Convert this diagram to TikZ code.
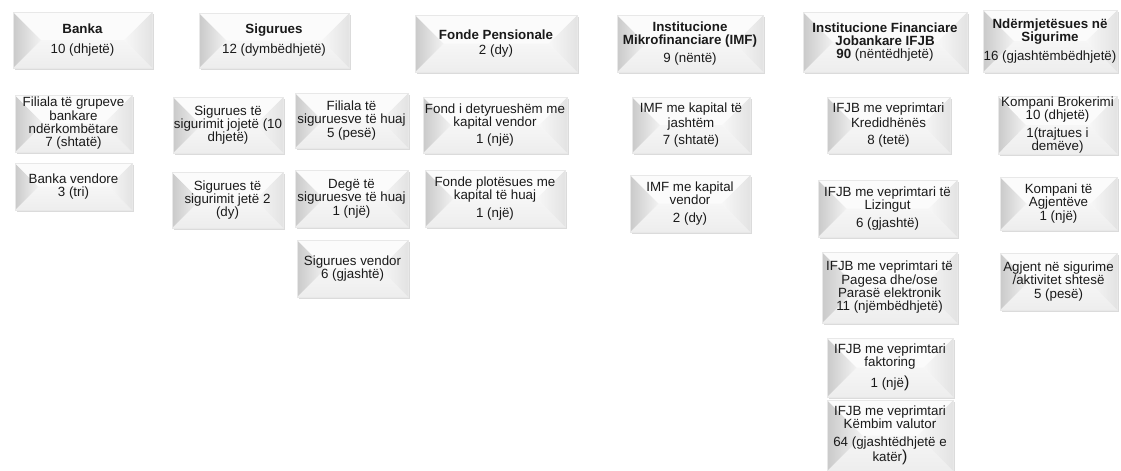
\documentclass[tikz,border=0pt]{standalone}
\usepackage{fontspec}
\setmainfont{Liberation Sans}
\usetikzlibrary{shadows,calc}
\definecolor{txt}{HTML}{1A1A1A}
\tikzset{
  bev/.style={draw=gray!18, line width=0.3pt, fill=gray!4, text=txt, align=center,
    inner sep=0.5pt, font=\fontsize{10}{10}\selectfont,
    drop shadow={shadow xshift=1.2pt, shadow yshift=-1.8pt, opacity=0.35, fill=gray!80}},
}
\newcommand\bx[6]{%
  \pgfmathsetmacro\hh{(#5-#3)/2*0.75}%
  \node[bev, minimum width={(#4-#2)*0.75pt}, minimum height={(#5-#3)*0.75pt},
    path picture={
      \fill[top color=white, bottom color=gray!14] (path picture bounding box.south west) rectangle (path picture bounding box.north east);
      \fill[left color=gray!42, right color=gray!10] (path picture bounding box.north west) -- ([xshift=\hh pt]path picture bounding box.west) -- (path picture bounding box.south west) -- cycle;
      \fill[left color=gray!6, right color=gray!22] (path picture bounding box.north east) -- ([xshift=-\hh pt]path picture bounding box.east) -- (path picture bounding box.south east) -- cycle;
      \fill[gray!3] (path picture bounding box.north west) -- ([xshift=\hh pt]path picture bounding box.west) -- ([xshift=-\hh pt]path picture bounding box.east) -- (path picture bounding box.north east) -- cycle;
    }] (#1) at ({(#2+#4)/2},{(#3+#5)/2}) {#6};}
\begin{document}
\begin{tikzpicture}[x=0.75pt,y=-0.75pt]
\useasboundingbox (0,0) rectangle (1121,471);
% top row
\bx{b0}{13}{12}{152}{68}{\textbf{Banka}\\[5pt]10 (dhjetë)}
\bx{s0}{199}{13}{349}{68}{\textbf{Sigurues}\\[5pt]12 (dymbëdhjetë)}
\bx{f0}{415}{15}{577}{72}{\textbf{Fonde Pensionale}\\[1pt]2 (dy)}
\bx{i0}{617}{15}{763}{72}{\textbf{Institucione}\\\textbf{Mikrofinanciare (IMF)}\\[3pt]9 (nëntë)}
\bx{j0}{803}{12}{967}{72}{\textbf{Institucione Financiare}\\\textbf{Jobankare IFJB}\\\textbf{90} (nëntëdhjetë)}
\bx{n0}{983}{10}{1117}{72}{\textbf{Ndërmjetësues në}\\\textbf{Sigurime}\\[4pt]16 (gjashtëmbëdhjetë)}
% Banka
\bx{b1}{15}{95}{132}{152}{Filiala të grupeve\\bankare\\ndërkombëtare\\7 (shtatë)}
\bx{b2}{15}{163}{132}{210}{Banka vendore\\3 (tri)}
% Sigurues
\bx{s1}{173}{97}{283}{153}{Sigurues të\\sigurimit jojetë (10\\dhjetë)}
\bx{s2}{295}{93}{408}{148}{Filiala të\\siguruesve të huaj\\5 (pesë)}
\bx{s3}{172}{172}{283}{228}{Sigurues të\\sigurimit jetë 2\\(dy)}
\bx{s4}{295}{170}{408}{227}{Degë të\\siguruesve të huaj\\1 (një)}
\bx{s5}{297}{240}{408}{297}{Sigurues vendor\\6 (gjashtë)}
% Fonde
\bx{f1}{423}{97}{567}{153}{Fond i detyrueshëm me\\kapital vendor\\[3pt]1 (një)}
\bx{f2}{425}{170}{565}{227}{Fonde plotësues me\\kapital të huaj\\[3pt]1 (një)}
% IMF
\bx{i1}{632}{97}{750}{153}{IMF me kapital të\\[1pt]jashtëm\\[3pt]7 (shtatë)}
\bx{i2}{630}{175}{750}{232}{IMF me kapital\\vendor\\[3pt]2 (dy)}
% IFJB
\bx{j1}{827}{97}{950}{153}{IFJB me veprimtari\\[1pt]Kredidhënës\\[3pt]8 (tetë)}
\bx{j2}{818}{180}{957}{237}{IFJB me veprimtari të\\Lizingut\\[3pt]6 (gjashtë)}
\bx{j3}{822}{252}{957}{323}{IFJB me veprimtari të\\Pagesa dhe/ose\\Parasë elektronik\\11 (njëmbëdhjetë)}
\bx{j4}{827}{338}{953}{397}{IFJB me veprimtari\\faktoring\\[4pt]1 (një{\large)}}
\bx{j5}{827}{400}{953}{471}{IFJB me veprimtari\\Këmbim valutor\\[3pt]64 (gjashtëdhjetë e\\katër{\large)}}
% Ndermjetesues
\bx{n1}{998}{97}{1117}{153}{Kompani Brokerimi\\10 (dhjetë)\\[3pt]1(trajtues i\\demëve)}
\bx{n2}{1000}{177}{1117}{230}{Kompani të\\Agjentëve\\1 (një)}
\bx{n3}{1000}{253}{1117}{310}{Agjent në sigurime\\/aktivitet shtesë\\5 (pesë)}
\end{tikzpicture}
\end{document}
